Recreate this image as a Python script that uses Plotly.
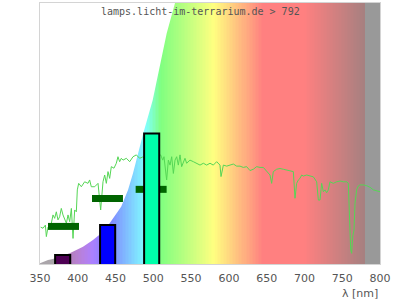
import plotly.graph_objects as go

# ---------------- data ----------------
title_text = "lamps.licht-im-terrarium.de > 792"
x_ticks = [350, 400, 450, 500, 550, 600, 650, 700, 750, 800]
x_label = "λ [nm]"

# measured spectrum (green line)
line_nm = [350.9, 354.0, 357.1, 358.4, 360.6, 365.0, 367.2, 369.4, 371.6, 373.8, 376.0, 378.2,
           380.4, 382.6, 384.9, 387.1, 389.3, 391.5, 393.7, 395.9, 398.1, 399.4, 401.2, 404.7,
           409.1, 413.5, 415.7, 417.9, 422.4, 426.8, 430.3, 433.4, 435.6, 437.8, 440.0, 442.2,
           444.4, 447.9, 451.0, 453.2, 455.4, 457.6, 459.9, 464.3, 468.7, 473.1, 477.5, 481.9,
           486.0, 490.0, 495.0, 500.0, 505.0, 509.7, 512.4, 514.1, 516.8, 517.6, 519.9, 522.1,
           524.3, 526.5, 528.7, 530.9, 533.1, 535.3, 537.5, 539.7, 541.9, 544.1, 548.5, 553.0,
           557.4, 561.8, 566.2, 570.6, 575.0, 579.4, 583.8, 588.2, 589.6, 592.7, 597.1, 601.5,
           605.9, 610.3, 614.7, 619.1, 623.5, 627.9, 632.3, 636.8, 641.2, 645.6, 650.0, 654.4,
           656.6, 658.8, 663.2, 667.6, 672.1, 676.5, 680.9, 685.3, 687.5, 689.7, 691.9, 694.1,
           696.3, 698.5, 703.0, 707.4, 711.8, 716.2, 718.4, 720.6, 722.8, 725.0, 727.2, 729.4,
           731.6, 733.8, 738.2, 742.6, 747.1, 751.5, 755.9, 758.1, 759.4, 761.2, 762.5, 763.8,
           765.6, 766.9, 769.1, 771.3, 773.5, 778.0, 782.4, 786.8, 791.2, 795.6, 800.0]
line_val = [0.141, 0.137, 0.149, 0.105, 0.141, 0.156, 0.188, 0.175, 0.200, 0.169, 0.181, 0.213,
            0.188, 0.169, 0.156, 0.188, 0.162, 0.213, 0.098, 0.207, 0.200, 0.284, 0.309, 0.296,
            0.315, 0.309, 0.322, 0.296, 0.296, 0.309, 0.207, 0.315, 0.341, 0.309, 0.354, 0.328,
            0.373, 0.367, 0.386, 0.411, 0.392, 0.405, 0.398, 0.405, 0.392, 0.411, 0.418, 0.405,
            0.410, 0.405, 0.410, 0.405, 0.410, 0.418, 0.398, 0.411, 0.354, 0.322, 0.398, 0.379,
            0.411, 0.347, 0.398, 0.411, 0.379, 0.418, 0.373, 0.392, 0.405, 0.386, 0.398, 0.392,
            0.386, 0.379, 0.386, 0.379, 0.386, 0.379, 0.392, 0.379, 0.335, 0.379, 0.375, 0.379,
            0.383, 0.375, 0.375, 0.370, 0.373, 0.358, 0.363, 0.373, 0.370, 0.370, 0.354, 0.341,
            0.309, 0.354, 0.363, 0.366, 0.363, 0.360, 0.358, 0.354, 0.252, 0.309, 0.322, 0.328,
            0.341, 0.337, 0.341, 0.337, 0.334, 0.315, 0.245, 0.245, 0.309, 0.277, 0.284, 0.273,
            0.284, 0.315, 0.309, 0.315, 0.318, 0.315, 0.315, 0.309, 0.181, 0.054, 0.041, 0.104,
            0.130, 0.232, 0.284, 0.299, 0.303, 0.303, 0.300, 0.294, 0.284, 0.281, 0.277]

# white mask curve (upper boundary of the coloured background)
mask_nm = [350.0, 360.6, 367.0, 389.3, 406.9, 420.1, 431.2, 442.2, 457.6, 466.5, 473.1,
           480.0, 486.7, 499.2, 508.8, 517.7, 528.7]
mask_val = [0.003, 0.015, 0.019, 0.041, 0.066, 0.092, 0.118, 0.156, 0.220, 0.284, 0.348,
            0.425, 0.501, 0.628, 0.756, 0.884, 1.000]

# bars
bar_nm = [380.0, 439.5, 497.8]
bar_val = [0.0345, 0.149, 0.500]
bar_width = 20.0
bar_colors = ["#4e0054", "#0000ff", "#00ffaa"]

# dark green horizontal segments
seg_nm = [381.1, 439.3, 497.1]
seg_val = [0.144, 0.251, 0.286]
seg_width = 41.0

# background band edges
band_step = 2
band_edges = list(range(350, 800 + band_step, band_step))


def wl_rgb(w):
    if w < 376:
        return (170, 165, 170)
    if w >= 780:
        return (153, 153, 153)
    w2 = max(w, 380)
    if w2 < 440:
        r, g, b = -(w2 - 440) / 60.0, 0.0, 1.0
    elif w2 < 490:
        r, g, b = 0.0, (w2 - 440) / 50.0, 1.0
    elif w2 < 510:
        r, g, b = 0.0, 1.0, -(w2 - 510) / 20.0
    elif w2 < 580:
        r, g, b = (w2 - 510) / 70.0, 1.0, 0.0
    elif w2 < 645:
        r, g, b = 1.0, -(w2 - 645) / 65.0, 0.0
    else:
        r, g, b = 1.0, 0.0, 0.0
    if w2 < 420:
        f = 0.3 + 0.7 * (w2 - 380) / 40.0
    elif w2 > 700:
        f = 0.3 + 0.7 * (780 - w2) / 80.0
    else:
        f = 1.0
    return tuple(int(round(255 * (0.5 + 0.5 * c * f))) for c in (r, g, b))


centers = [(band_edges[i] + band_edges[i + 1]) / 2 for i in range(len(band_edges) - 1)]
n = len(centers)
colorscale = []
for i, c in enumerate(centers):
    r, g, b = wl_rgb(c)
    colorscale.append([i / (n - 1), f"rgb({r},{g},{b})"])

fig = go.Figure()

# background spectrum
fig.add_trace(go.Heatmap(
    x=band_edges, y=[0, 1], z=[list(range(n))],
    colorscale=colorscale, zmin=0, zmax=n - 1, showscale=False,
    hoverinfo="skip", zsmooth=False,
))

# white mask above the curve
fig.add_trace(go.Scatter(
    x=mask_nm + [mask_nm[-1], mask_nm[0]],
    y=mask_val + [1.0, 1.0],
    fill="toself", fillcolor="white", mode="lines",
    line=dict(width=0, color="white"), hoverinfo="skip",
))

# spectrum line
fig.add_trace(go.Scatter(
    x=line_nm, y=line_val, mode="lines",
    line=dict(color="#55d655", width=1), hoverinfo="skip",
))

# segments
sx, sy = [], []
for c, v in zip(seg_nm, seg_val):
    sx += [c - seg_width / 2, c + seg_width / 2, None]
    sy += [v, v, None]
fig.add_trace(go.Scatter(
    x=sx, y=sy, mode="lines",
    line=dict(color="#006400", width=7), hoverinfo="skip",
))

# bars (drawn as filled polygons so they sit above the lines)
for c, v, col in zip(bar_nm, bar_val, bar_colors):
    l, r = c - bar_width / 2, c + bar_width / 2
    fig.add_trace(go.Scatter(
        x=[l, l, r, r], y=[0, v, v, 0],
        fill="toself", fillcolor=col, mode="lines",
        line=dict(color="black", width=2), hoverinfo="skip",
    ))

fig.update_layout(
    width=400, height=300,
    margin=dict(l=40, r=20, t=3, b=36),
    paper_bgcolor="white", plot_bgcolor="white",
    showlegend=False,
    xaxis=dict(
        range=[350, 800], tickvals=x_ticks, ticktext=[str(t) for t in x_ticks],
        showgrid=False, zeroline=False, showline=True, linecolor="#d4d4d4",
        linewidth=1, mirror=True, ticks="outside", ticklen=4,
        tickcolor="rgba(0,0,0,0)",
        tickfont=dict(family="DejaVu Sans", size=11, color="#555555"),
    ),
    yaxis=dict(
        range=[0, 1], showticklabels=False, showgrid=False, zeroline=False,
        showline=True, linecolor="#d4d4d4", linewidth=1, mirror=True, ticks="",
    ),
    annotations=[
        dict(text=title_text, xref="paper", yref="paper", x=0.473, y=0.969,
             xanchor="center", yanchor="middle", showarrow=False,
             font=dict(family="DejaVu Sans Mono", size=10, color="#555555")),
        dict(text=x_label, xref="paper", yref="paper", x=1.0, y=-0.113,
             xanchor="right", yanchor="middle", showarrow=False,
             font=dict(family="DejaVu Sans", size=11, color="#555555")),
    ],
)

fig.write_html("out.html")
